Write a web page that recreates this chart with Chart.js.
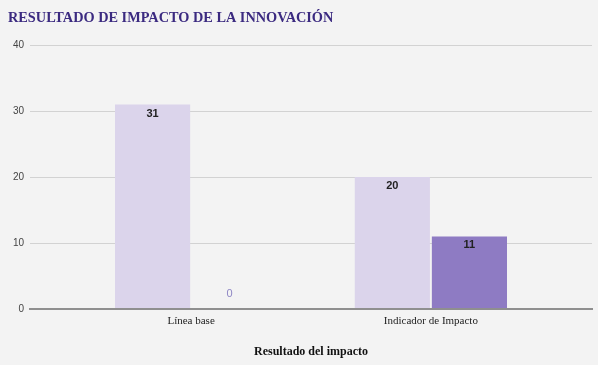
<!DOCTYPE html>
<html><head><meta charset="utf-8">
<script src="https://cdn.jsdelivr.net/npm/chart.js@4/dist/chart.umd.min.js"></script>
<style>html,body{margin:0;padding:0;background:#f3f3f3;}canvas{display:block;}</style>
</head><body>
<canvas id="c" width="598" height="365"></canvas>
<script>
const categories = ['Línea base', 'Indicador de Impacto'];
const seriesA = [31, 20];
const seriesB = [0, 11];
const yTicks = [0, 10, 20, 30, 40];
const chartTitle = 'RESULTADO DE IMPACTO DE LA INNOVACIÓN';
const xAxisTitle = 'Resultado del impacto';

const toPoints = arr => arr.map((v, i) => ({x: i, y: v}));

const valueLabels = {
  id: 'valueLabels',
  afterDatasetsDraw(chart) {
    const ctx = chart.ctx;
    chart.data.datasets.forEach((ds, di) => {
      const meta = chart.getDatasetMeta(di);
      meta.data.forEach((el, i) => {
        const v = ds.data[i].y;
        ctx.save();
        ctx.textAlign = 'center';
        ctx.textBaseline = 'middle';
        if (v > 0) {
          ctx.font = 'bold 11px "Liberation Sans", Arial, sans-serif';
          ctx.fillStyle = '#222222';
          ctx.fillText(String(v), el.x, el.y + 9);
        } else {
          ctx.font = '11px "Liberation Sans", Arial, sans-serif';
          ctx.fillStyle = '#8e86c4';
          ctx.fillText(String(v), el.x, el.y - 15);
        }
        ctx.restore();
      });
    });
  }
};

new Chart(document.getElementById('c'), {
  type: 'bar',
  data: {
    datasets: [
      {label: 'Serie 1', data: toPoints(seriesA), backgroundColor: '#dbd4eb'},
      {label: 'Serie 2', data: toPoints(seriesB), backgroundColor: '#8e7bc3'}
    ]
  },
  options: {
    responsive: false,
    devicePixelRatio: 1,
    animation: false,
    layout: {padding: {left: 8, right: 6, top: 0, bottom: 0}},
    datasets: {bar: {categoryPercentage: 0.643, barPercentage: 0.975}},
    plugins: {
      legend: {display: false},
      tooltip: {enabled: false},
      title: {
        display: true, text: chartTitle, align: 'start', color: '#3b2a80',
        font: {family: '"Liberation Serif", "Times New Roman", serif', size: 14.3, weight: 'bold'},
        padding: {top: 10, bottom: 18}
      }
    },
    scales: {
      x: {
        type: 'linear', min: -0.672, max: 1.672, offset: false, bounds: 'data',
        afterBuildTicks: s => { s.ticks = categories.map((c, i) => ({value: i})); },
        afterFit: s => { s.height = 56; },
        grid: {display: false, drawTicks: false, offset: false},
        border: {display: true, color: '#8f8f8f', width: 2, z: 1},
        ticks: {
          callback: v => categories[v] ?? '',
          color: '#222222', padding: 6, maxRotation: 0, autoSkip: false,
          font: {family: '"Liberation Serif", "Times New Roman", serif', size: 11}
        },
        title: {
          display: true, text: xAxisTitle, color: '#111111',
          font: {family: '"Liberation Serif", "Times New Roman", serif', size: 12, weight: 'bold'},
          padding: {top: 0, bottom: 6}
        }
      },
      y: {
        min: yTicks[0], max: yTicks[yTicks.length - 1],
        afterBuildTicks: s => { s.ticks = yTicks.map(v => ({value: v})); },
        afterFit: s => { s.width = 22; },
        grid: {drawTicks: false, color: c => c.tick && c.tick.value === 0 ? 'rgba(0,0,0,0)' : '#d2d2d2'},
        border: {display: false},
        ticks: {
          color: '#444444', padding: 6,
          font: {family: '"Liberation Sans", Arial, sans-serif', size: 10}
        }
      }
    }
  },
  plugins: [valueLabels]
});
</script>
</body></html>
